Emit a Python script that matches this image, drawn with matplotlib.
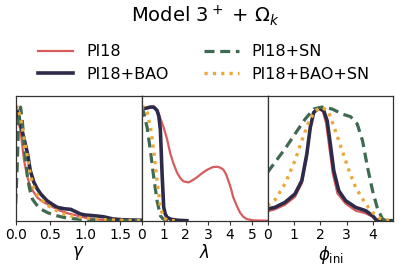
import matplotlib
matplotlib.use("Agg")
import matplotlib.pyplot as plt

# ---------------- data ----------------
labels = ["Pl18", "Pl18+BAO", "Pl18+SN", "Pl18+BAO+SN"]

# gamma panel
gamma_x_pl18 = [0.0, 0.03, 0.07, 0.12, 0.17, 0.21, 0.26, 0.31, 0.38, 0.45, 0.55, 0.64, 0.75, 0.83, 0.95, 1.02, 1.12, 1.21, 1.35, 1.5, 1.8]
gamma_y_pl18 = [0.97, 0.90, 0.79, 0.53, 0.38, 0.30, 0.25, 0.205, 0.17, 0.147, 0.115, 0.088, 0.065, 0.053, 0.035, 0.023, 0.014, 0.009, 0.005, 0.002, 0.0]
gamma_x_bao = [0.0, 0.03, 0.07, 0.12, 0.17, 0.21, 0.26, 0.31, 0.36, 0.45, 0.55, 0.6, 0.7, 0.79, 0.86, 0.93, 1.0, 1.12, 1.26, 1.4, 1.55, 1.8]
gamma_y_bao = [1.0, 0.95, 0.85, 0.72, 0.59, 0.44, 0.34, 0.28, 0.235, 0.176, 0.135, 0.117, 0.105, 0.100, 0.08, 0.059, 0.05, 0.044, 0.035, 0.015, 0.008, 0.004]
gamma_x_sn = [0.0, 0.02, 0.04, 0.07, 0.095, 0.12, 0.14, 0.17, 0.2, 0.24, 0.3, 0.36, 0.45, 0.55, 0.69, 0.8, 0.93, 1.1, 1.3, 1.8]
gamma_y_sn = [0.15, 0.45, 0.85, 1.0, 0.88, 0.68, 0.55, 0.38, 0.28, 0.19, 0.14, 0.103, 0.073, 0.05, 0.029, 0.02, 0.012, 0.006, 0.003, 0.0]
gamma_x_baosn = [0.0, 0.03, 0.07, 0.12, 0.17, 0.21, 0.26, 0.31, 0.36, 0.43, 0.5, 0.6, 0.69, 0.8, 0.93, 1.05, 1.17, 1.4, 1.8]
gamma_y_baosn = [0.98, 1.0, 0.9, 0.73, 0.56, 0.41, 0.29, 0.23, 0.19, 0.15, 0.117, 0.085, 0.059, 0.042, 0.029, 0.02, 0.012, 0.006, 0.0]

# lambda panel
lam_x_pl18 = [0.0, 0.2, 0.4, 0.55, 0.7, 0.85, 1.0, 1.15, 1.3, 1.45, 1.6, 1.75, 1.9, 2.13, 2.3, 2.5, 2.75, 2.95, 3.2, 3.4, 3.55, 3.7, 3.82, 3.93, 4.05, 4.15, 4.3, 4.45, 4.6, 4.75, 5.05, 5.7]
lam_y_pl18 = [0.985, 0.99, 1.0, 1.0, 0.97, 0.9, 0.82, 0.72, 0.59, 0.5, 0.425, 0.375, 0.346, 0.337, 0.355, 0.381, 0.42, 0.446, 0.47, 0.475, 0.468, 0.45, 0.41, 0.352, 0.28, 0.205, 0.135, 0.073, 0.035, 0.015, 0.003, 0.0]
lam_x_bao = [0.0, 0.2, 0.4, 0.55, 0.7, 0.78, 0.85, 0.93, 1.0, 1.07, 1.15, 1.3, 1.45, 1.7, 2.05]
lam_y_bao = [0.985, 0.99, 1.0, 1.0, 0.97, 0.92, 0.8, 0.4, 0.12, 0.06, 0.03, 0.015, 0.008, 0.003, 0.0]
lam_x_sn = [0.0, 0.1, 0.25, 0.4, 0.55, 0.7, 0.85, 0.95, 1.08, 1.3]
lam_y_sn = [1.0, 0.95, 0.82, 0.616, 0.381, 0.176, 0.044, 0.02, 0.006, 0.0]
lam_x_baosn = [0.0, 0.1, 0.25, 0.4, 0.55, 0.7, 0.85, 1.0, 1.22, 1.5]
lam_y_baosn = [0.985, 1.0, 0.953, 0.821, 0.616, 0.352, 0.117, 0.023, 0.003, 0.0]

# phi_ini panel
phi_x_pl18 = [0.0, 0.28, 0.66, 1.04, 1.3, 1.49, 1.62, 1.75, 1.94, 2.1, 2.22, 2.34, 2.47, 2.65, 2.96, 3.34, 3.72, 3.98, 4.11, 4.3, 4.75]
phi_y_pl18 = [0.082, 0.1, 0.14, 0.21, 0.33, 0.57, 0.81, 0.95, 0.99, 0.96, 0.86, 0.65, 0.42, 0.24, 0.15, 0.088, 0.065, 0.035, 0.009, 0.0, 0.0]
phi_x_bao = [0.0, 0.28, 0.66, 1.04, 1.3, 1.49, 1.62, 1.75, 1.94, 2.13, 2.26, 2.38, 2.51, 2.7, 2.96, 3.34, 3.72, 3.98, 4.11, 4.3, 4.75]
phi_y_bao = [0.103, 0.117, 0.161, 0.235, 0.352, 0.587, 0.821, 0.953, 0.991, 0.968, 0.88, 0.675, 0.44, 0.264, 0.176, 0.117, 0.088, 0.044, 0.009, 0.0, 0.0]
phi_x_sn = [0.0, 0.28, 0.66, 1.04, 1.43, 1.75, 2.07, 2.45, 2.83, 3.15, 3.4, 3.6, 3.79, 3.98, 4.17, 4.36, 4.49, 4.75]
phi_y_sn = [0.425, 0.513, 0.631, 0.763, 0.895, 0.983, 1.0, 0.983, 0.939, 0.915, 0.851, 0.704, 0.469, 0.264, 0.103, 0.015, 0.0, 0.0]
phi_x_baosn = [0.0, 0.28, 0.66, 1.04, 1.3, 1.55, 1.81, 2.07, 2.32, 2.57, 2.83, 3.09, 3.34, 3.72, 3.98, 4.23, 4.49, 4.75]
phi_y_baosn = [0.132, 0.182, 0.323, 0.528, 0.704, 0.865, 0.968, 1.0, 0.953, 0.792, 0.616, 0.44, 0.293, 0.147, 0.073, 0.023, 0.006, 0.0]

panel_xlabels = [r"$\gamma$", r"$\lambda$", r"$\phi_{\rm ini}$"]
panel_xlims = [(0, 1.81), (0, 5.7), (0, 4.77)]
panel_xticks = [[0.0, 0.5, 1.0, 1.5], [0, 1, 2, 3, 4, 5], [0, 1, 2, 3, 4]]
panel_xticklabels = [["0.0", "0.5", "1.0", "1.5"], ["0", "1", "2", "3", "4", "5"], ["0", "1", "2", "3", "4"]]

panels = [
    [(gamma_x_pl18, gamma_y_pl18), (gamma_x_bao, gamma_y_bao), (gamma_x_sn, gamma_y_sn), (gamma_x_baosn, gamma_y_baosn)],
    [(lam_x_pl18, lam_y_pl18), (lam_x_bao, lam_y_bao), (lam_x_sn, lam_y_sn), (lam_x_baosn, lam_y_baosn)],
    [(phi_x_pl18, phi_y_pl18), (phi_x_bao, phi_y_bao), (phi_x_sn, phi_y_sn), (phi_x_baosn, phi_y_baosn)],
]

# ---------------- style ----------------
plt.rcParams["lines.scale_dashes"] = False
colors = ["#d65c5e", "#2d2a4a", "#3f6a52", "#e9a93a"]
widths = [1.6, 2.6, 2.3, 2.4]
styles = ["-", "-", (0, (7.2, 4.1)), (0, (2.3, 3.7))]

W, H = 399, 268
fig = plt.figure(figsize=(W / 100, H / 100), dpi=100)

left0 = 15.7
pw = 125.9
bottom_px = 220.7
top_px = 95.7

axes = []
for i in range(3):
    l = (left0 + i * pw) / W
    ax = fig.add_axes([l, 1 - bottom_px / H, pw / W, (bottom_px - top_px) / H])
    axes.append(ax)
    handles = []
    for j, (xs, ys) in enumerate(panels[i]):
        ln, = ax.plot(xs, ys, color=colors[j], lw=widths[j], linestyle=styles[j],
                      dash_capstyle="butt", solid_joinstyle="round", label=labels[j])
        handles.append(ln)
    ax.set_xlim(*panel_xlims[i])
    ax.set_ylim(0, 1.1)
    ax.set_yticks([])
    ax.set_xticks(panel_xticks[i])
    ax.set_xticklabels(panel_xticklabels[i])
    ax.tick_params(axis="x", labelsize=10, length=3, width=0.8, pad=2.5, color="#333333")
    ax.set_xlabel(panel_xlabels[i], fontsize=12, labelpad=1.5)
    for s in ax.spines.values():
        s.set_color("#333333")
        s.set_linewidth(0.9)

fig.text(205 / W, 1 - 15.5 / H, r"Model $3^+$ + $\Omega_k$", ha="center", va="center", fontsize=14)

fig.legend(handles, labels, ncol=2, loc="center", bbox_to_anchor=(204 / W, 1 - 63 / H),
           frameon=False, fontsize=11.5, handlelength=2.2, handletextpad=0.8,
           columnspacing=2.2, labelspacing=0.45, borderaxespad=0, borderpad=0)

fig.savefig("out.png", dpi=100)
